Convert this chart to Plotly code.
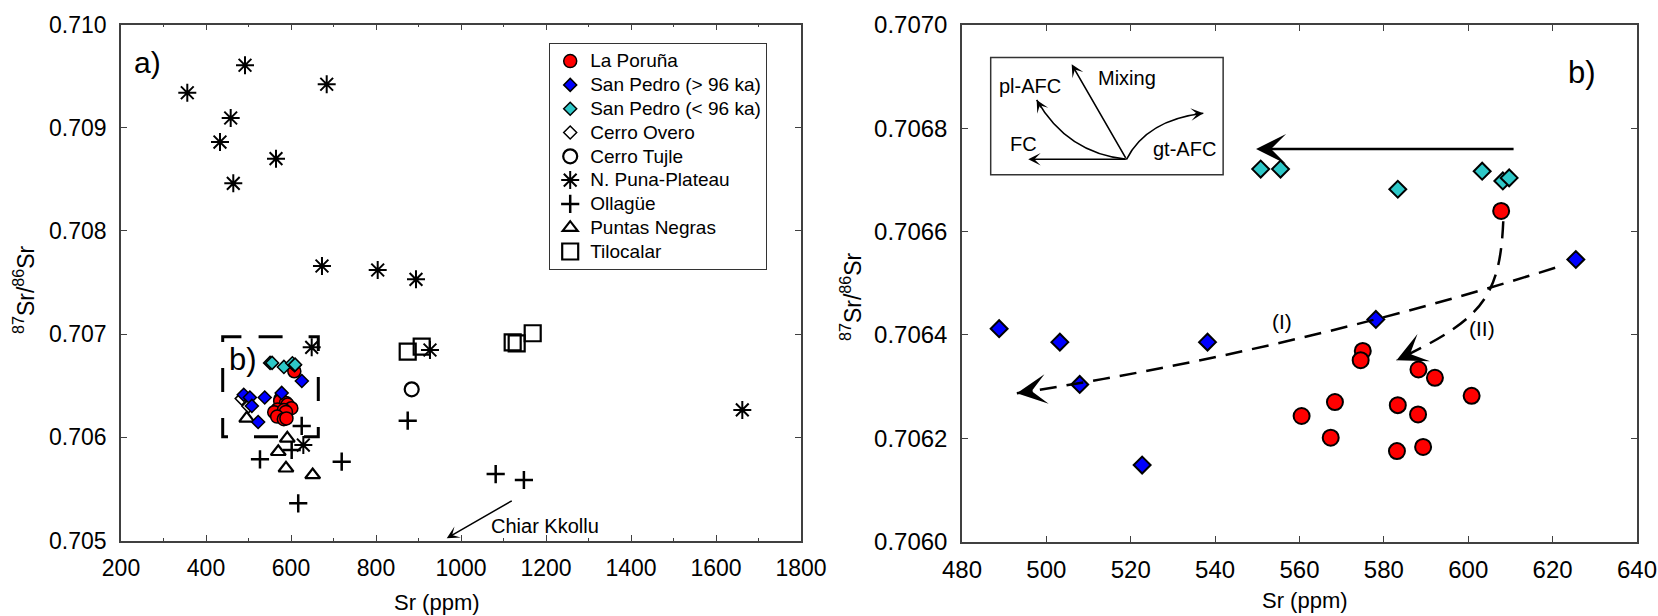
import plotly.graph_objects as go

# ---------------- data: Sr (ppm) and 87Sr/86Sr ----------------
la_poruna_sr = [575.0, 574.5, 588.2, 592.1, 600.8, 568.4, 560.5, 583.3, 588.1, 567.4, 583.1, 589.3, 607.8]
la_poruna_r = [0.706369, 0.706351, 0.706333, 0.706317, 0.706282, 0.706270, 0.706243,
               0.706264, 0.706246, 0.706201, 0.706175, 0.706183, 0.706640]

sp_old_sr = [488.8, 503.2, 507.9, 538.2, 522.7, 578.1, 625.5]
sp_old_r = [0.706412, 0.706386, 0.706304, 0.706386, 0.706148, 0.706430, 0.706546]

sp_young_sr = [550.8, 555.5, 583.3, 603.3, 608.2, 609.7]
sp_young_r = [0.706721, 0.706721, 0.706682, 0.706717, 0.706698, 0.706704]

cerro_overo_sr = [484.0, 500.0]
cerro_overo_r = [0.706375, 0.706300]

cerro_tujle_sr = [884.0]
cerro_tujle_r = [0.706465]

n_puna_sr = [356.0, 491.8, 458.1, 432.9, 464.2, 564.7, 684.0, 672.9, 804.0, 894.1,
             1661.9, 927.0, 648.7, 629.0]
n_puna_r = [0.709339, 0.709605, 0.709094, 0.708861, 0.708461, 0.708700, 0.709421,
            0.707660, 0.707621, 0.707531, 0.706265, 0.706846, 0.706872, 0.705925]

ollague_sr = [874.6, 1081.6, 1148.0, 625.2, 527.0, 601.6, 719.3, 617.0]
ollague_r = [0.706161, 0.705644, 0.705586, 0.706110, 0.705787, 0.705877, 0.705764, 0.705360]

puntas_negras_sr = [495.8, 591.3, 570.1, 588.2, 651.0]
puntas_negras_r = [0.706184, 0.705990, 0.705860, 0.705700, 0.705635]

tilocalar_sr = [874.6, 907.5, 1121.6, 1131.0, 1168.7]
tilocalar_r = [0.706830, 0.706878, 0.706920, 0.706911, 0.707008]

# ---------------- tick labels ----------------
a_x_ticks = [200, 400, 600, 800, 1000, 1200, 1400, 1600, 1800]
a_x_minor = [300, 500, 700, 900, 1100, 1300, 1500, 1700]
a_y_ticks = [0.705, 0.706, 0.707, 0.708, 0.709, 0.710]
b_x_ticks = [480, 500, 520, 540, 560, 580, 600, 620, 640]
b_y_ticks = [0.7060, 0.7062, 0.7064, 0.7066, 0.7068, 0.7070]

# ---------------- guide paths (annotation geometry, data units) ----------------
zoom_box = dict(x0=439.3, x1=664.2, y0=0.706006, y1=0.706975)
inset_box = dict(x0=486.8, x1=541.9, y0=0.706710, y1=0.706937)
inset_origin = (519.0, 0.706740)
fc_tip = (495.7, 0.706740)
mixing_tip = (506.0, 0.706924)
pl_afc_ctrl, pl_afc_tip = (504.9, 0.706752), (497.7, 0.706855)
gt_afc_ctrl, gt_afc_tip = (523.8, 0.706816), (537.2, 0.706829)
trend_I = [(620.6, 0.706530), (557.7, 0.706368), (493.0, 0.706287)]
trend_II = [(608.3, 0.706620), (607.5, 0.706468), (602.8, 0.706429), (583.0, 0.706351)]
big_arrow = [(611.1, 0.706760), (549.7, 0.706760)]
chiar_kkollu = [(1123.0, 0.705393), (966.4, 0.705021)]

FONT = "Liberation Sans, Arial, Helvetica, sans-serif"
RED, BLUE, CYAN = "#ff0000", "#0000ff", "#2ec8c8"
AXIS = "#404040"
LEGEND_TEXT = "<span style='font-size:19px'>{}</span>"

fig = go.Figure()


def series(name, xs, ys, symbol, size, color, lw, rank, xa="x", ya="y", legend=True):
    fig.add_trace(go.Scatter(
        x=xs, y=ys, mode="markers", name=LEGEND_TEXT.format(name), xaxis=xa, yaxis=ya,
        showlegend=legend, legendrank=rank, hoverinfo="skip",
        marker=dict(symbol=symbol, size=size, color=color,
                    line=dict(color="black", width=lw)),
    ))


# panel a) — drawing order bottom to top
series("Cerro Overo", cerro_overo_sr, cerro_overo_r, "diamond", 10, "white", 1.5, 4)
series("N. Puna-Plateau", n_puna_sr, n_puna_r, "asterisk-open", 15, "black", 2, 6)
series("Tilocalar", tilocalar_sr, tilocalar_r, "square-open", 16, "black", 2.2, 9)
series("Cerro Tujle", cerro_tujle_sr, cerro_tujle_r, "circle-open", 14, "black", 2.2, 5)
series("Ollagüe", ollague_sr, ollague_r, "cross-thin-open", 13, "black", 2.5, 7)
series("Puntas Negras", puntas_negras_sr, puntas_negras_r, "triangle-up-open", 13, "black", 2.2, 8)
series("La Poruña", la_poruna_sr, la_poruna_r, "circle", 13, RED, 1.5, 1)
series("San Pedro (> 96 ka)", sp_old_sr, sp_old_r, "diamond", 10, BLUE, 1.5, 2)
series("San Pedro (< 96 ka)", sp_young_sr, sp_young_r, "diamond", 10, CYAN, 1.5, 3)

# panel b)
series("La Poruña", la_poruna_sr, la_poruna_r, "circle", 16, RED, 2, 1, "x2", "y2", False)
series("San Pedro (> 96 ka)", sp_old_sr, sp_old_r, "diamond", 13, BLUE, 2, 2, "x2", "y2", False)
series("San Pedro (< 96 ka)", sp_young_sr, sp_young_r, "diamond", 13, CYAN, 2, 3, "x2", "y2", False)


def axis_style(rng, ticks, fmt, size, domain, anchor, standoff, minor=None):
    d = dict(
        range=rng, domain=domain, anchor=anchor, tickmode="array", tickvals=ticks,
        ticktext=[fmt.format(t) for t in ticks], ticks="inside", ticklen=6, tickwidth=1,
        tickcolor=AXIS, showline=True, linecolor=AXIS, linewidth=1.5, mirror="ticks",
        showgrid=False, zeroline=False, fixedrange=True, automargin=False,
        tickfont=dict(family=FONT, size=size, color="black"), ticklabelstandoff=standoff,
    )
    if minor:
        d["minor"] = dict(tickmode="array", tickvals=minor, ticks="inside", ticklen=3,
                          tickwidth=1, tickcolor=AXIS)
    return d


YD_A = [1 - 540.5 / 616, 1 - 24.5 / 616]
YD_B = [1 - 541.5 / 616, 1 - 25 / 616]

fig.update_layout(
    width=1658, height=616, margin=dict(l=0, r=0, t=0, b=0),
    paper_bgcolor="white", plot_bgcolor="white",
    font=dict(family=FONT, color="black"),
    xaxis=axis_style([200, 1800], a_x_ticks, "{:d}", 23, [121 / 1658, 801 / 1658], "y", 6, a_x_minor),
    yaxis=axis_style([0.705, 0.710], a_y_ticks, "{:.3f}", 23, YD_A, "x", 8),
    xaxis2=axis_style([480, 640], b_x_ticks, "{:d}", 24, [962 / 1658, 1637 / 1658], "y2", 6),
    yaxis2=axis_style([0.7060, 0.7070], b_y_ticks, "{:.4f}", 24, YD_B, "x2", 8),
    showlegend=True,
    legend=dict(x=549 / 1658, y=1 - 43 / 616, xanchor="left", yanchor="top",
                bgcolor="white", bordercolor="#333333", borderwidth=1.2,
                font=dict(family=FONT, size=16, color="black"),
                itemsizing="trace", tracegroupgap=0),
)

shapes = []
# dashed outline of the panel b) window in panel a)
zx0, zx1, zy0, zy1 = zoom_box["x0"], zoom_box["x1"], zoom_box["y0"], zoom_box["y1"]
zstart = (zx0 + zx1) / 2 - 28
shapes.append(dict(type="path", xref="x", yref="y",
                   path=f"M{zstart},{zy1} L{zx1},{zy1} L{zx1},{zy0} L{zx0},{zy0} L{zx0},{zy1} Z",
                   line=dict(color="black", width=3, dash="24px,26px")))
# inset frame with process vectors
shapes.append(dict(type="rect", xref="x2", yref="y2", x0=inset_box["x0"], x1=inset_box["x1"],
                   y0=inset_box["y0"], y1=inset_box["y1"], line=dict(color="#333333", width=1.5),
                   fillcolor="rgba(0,0,0,0)"))
ox, oy = inset_origin
shapes.append(dict(type="path", xref="x2", yref="y2",
                   path=f"M{ox},{oy} Q{pl_afc_ctrl[0]},{pl_afc_ctrl[1]} {pl_afc_tip[0]},{pl_afc_tip[1]}",
                   line=dict(color="black", width=1.6)))
shapes.append(dict(type="path", xref="x2", yref="y2",
                   path=f"M{ox},{oy} Q{gt_afc_ctrl[0]},{gt_afc_ctrl[1]} {gt_afc_tip[0]},{gt_afc_tip[1]}",
                   line=dict(color="black", width=1.6)))
# dashed trends (I) and (II)
(p0, c, p2) = trend_I
shapes.append(dict(type="path", xref="x2", yref="y2",
                   path=f"M{p0[0]},{p0[1]} Q{c[0]},{c[1]} {p2[0]},{p2[1]}",
                   line=dict(color="black", width=2.5, dash="17px,10px")))
(q0, q1, q2, q3) = trend_II
shapes.append(dict(type="path", xref="x2", yref="y2",
                   path=f"M{q0[0]},{q0[1]} C{q1[0]},{q1[1]} {q2[0]},{q2[1]} {q3[0]},{q3[1]}",
                   line=dict(color="black", width=2.5, dash="17px,10px")))
fig.update_layout(shapes=shapes)

ann = []


def text(x, y, s, size, xref="paper", yref="paper", angle=0, xanchor="center"):
    ann.append(dict(x=x, y=y, xref=xref, yref=yref, text=s, showarrow=False, textangle=angle,
                    xanchor=xanchor, yanchor="middle", font=dict(family=FONT, size=size, color="black")))


def arrow(head, tail, xref, yref, width, size, pixel=False):
    a = dict(x=head[0], y=head[1], xref=xref, yref=yref, text="", showarrow=True,
             arrowhead=3, arrowwidth=width, arrowsize=size, arrowcolor="black",
             standoff=0, startstandoff=0)
    if pixel:
        a.update(ax=tail[0], ay=tail[1], axref="pixel", ayref="pixel")
    else:
        a.update(ax=tail[0], ay=tail[1], axref=xref, ayref=yref)
    ann.append(a)


# axis titles
text(437 / 1658, 1 - 602 / 616, "Sr (ppm)", 22)
text(1305 / 1658, 1 - 600 / 616, "Sr (ppm)", 22)
text(24 / 1658, 1 - 290 / 616, "<sup>87</sup>Sr/<sup>86</sup>Sr", 23, angle=-90)
text(851 / 1658, 1 - 296 / 616, "<sup>87</sup>Sr/<sup>86</sup>Sr", 23, angle=-90)
# panel labels
text(147 / 1658, 1 - 62 / 616, "a)", 30)
text(243 / 1658, 1 - 359 / 616, "b)", 31)
text(1582 / 1658, 1 - 73 / 616, "b)", 31)

# panel a) note
text(1197.6, 0.705145, "Chiar Kkollu", 20, "x", "y")
arrow(chiar_kkollu[1], chiar_kkollu[0], "x", "y", 1.5, 1.4)

# inset process vectors
arrow(fc_tip, inset_origin, "x2", "y2", 1.6, 1.3)
arrow(mixing_tip, inset_origin, "x2", "y2", 1.6, 1.3)
arrow(pl_afc_tip, (5, 9), "x2", "y2", 1.6, 1.3, pixel=True)
arrow(gt_afc_tip, (-10, 1), "x2", "y2", 1.6, 1.3, pixel=True)
text(519.0, 0.706897, "Mixing", 20, "x2", "y2")
text(496.0, 0.706882, "pl-AFC", 20, "x2", "y2")
text(494.5, 0.706770, "FC", 20, "x2", "y2")
text(532.7, 0.706760, "gt-AFC", 20, "x2", "y2")

# big horizontal vector and trend arrows
arrow(big_arrow[1], big_arrow[0], "x2", "y2", 2.5, 2.0)
arrow(trend_I[2], (14, -2), "x2", "y2", 2.5, 2.0, pixel=True)
arrow(trend_II[3], (13, -6), "x2", "y2", 2.5, 2.0, pixel=True)
text(555.8, 0.706426, "(I)", 21, "x2", "y2")
text(603.2, 0.706413, "(II)", 21, "x2", "y2")

fig.update_layout(annotations=ann)

fig.write_html("out.html")
